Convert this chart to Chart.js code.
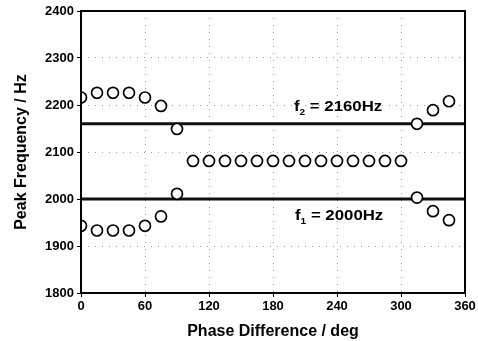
<!DOCTYPE html>
<html>
<head>
<meta charset="utf-8">
<script src="https://cdn.jsdelivr.net/npm/chart.js@4.4.0/dist/chart.umd.min.js"></script>
<style>
  html, body { margin: 0; padding: 0; background: #fff; }
  #wrap { width: 478px; height: 341px; }
</style>
</head>
<body>
<div id="wrap"><canvas id="myChart"></canvas></div>
<script>
// phase difference (deg) and measured peak frequencies (Hz)
const phaseUpper = [0, 15, 30, 45, 60, 75, 90, 315, 330, 345];
const freqUpper = [2216, 2226, 2226, 2226, 2216, 2198, 2149, 2160, 2189, 2208];
const phaseMid = [105, 120, 135, 150, 165, 180, 195, 210, 225, 240, 255, 270, 285, 300];
const freqMid = [2081, 2081, 2081, 2081, 2081, 2081, 2081, 2081, 2081, 2081, 2081, 2081, 2081, 2081];
const phaseLower = [0, 15, 30, 45, 60, 75, 90, 315, 330, 345];
const freqLower = [1943, 1933, 1933, 1933, 1943, 1963, 2011, 2003, 1974, 1955];

// reference frequencies of the two sources
const refFreqs = [2160, 2000];
const refLabels = [['f', '2', ' = 2160Hz'], ['f', '1', ' = 2000Hz']];

const xTicks = [0, 60, 120, 180, 240, 300, 360];
const yTicks = [1800, 1900, 2000, 2100, 2200, 2300, 2400];

function toPoints(xs, ys){
    var pts = [];
    for (let i = 0; i < xs.length; i++) {
        pts.push({x: xs[i], y: ys[i]});
    }
    return pts;
}

const markerStyle = {
    showLine: false,
    pointStyle: 'circle',
    pointRadius: 5.5,
    pointBorderWidth: 1.7,
    pointBorderColor: '#000',
    pointBackgroundColor: '#fff'
};

const datasets = [];
// thick reference lines first so the circles sit on top
refFreqs.forEach(function(f){
    datasets.push({
        data: [{x: 0, y: f}, {x: 360, y: f}],
        showLine: true,
        borderColor: '#111',
        borderWidth: 3,
        pointRadius: 0,
        order: 2
    });
});
datasets.push(Object.assign({data: toPoints(phaseUpper, freqUpper), order: 1}, markerStyle));
datasets.push(Object.assign({data: toPoints(phaseMid, freqMid), order: 1}, markerStyle));
datasets.push(Object.assign({data: toPoints(phaseLower, freqLower), order: 1}, markerStyle));

const FAM = '"Liberation Sans", Arial, sans-serif';

// frame around the plot area and the f1 / f2 labels
const framePlugin = {
    id: 'frame',
    afterDatasetsDraw(chart){
        const ctx = chart.ctx;
        const a = chart.chartArea;
        const xs = chart.scales.x, ys = chart.scales.y;
        ctx.save();
        ctx.strokeStyle = '#000';
        ctx.lineWidth = 2;
        ctx.strokeRect(a.left, a.top, a.right - a.left, a.bottom - a.top);

        const spots = [[241, 2187], [242, 1955]];
        const big = 'bold 15px ' + FAM, small = 'bold 9px ' + FAM;
        refLabels.forEach(function(lab, i){
            const cx = xs.getPixelForValue(spots[i][0]);
            const y = ys.getPixelForValue(spots[i][1]);
            ctx.fillStyle = '#000';
            ctx.textBaseline = 'alphabetic';
            ctx.textAlign = 'left';
            ctx.font = big;
            let w = ctx.measureText(lab[0]).width + ctx.measureText(lab[2]).width;
            ctx.font = small;
            w += ctx.measureText(lab[1]).width;
            // slightly wide lettering
            ctx.translate(cx, y);
            ctx.scale(1.12, 1);
            let x = -w / 2;
            ctx.font = big;
            ctx.fillText(lab[0], x, 0);
            x += ctx.measureText(lab[0]).width;
            ctx.font = small;
            ctx.fillText(lab[1], x, 4);
            x += ctx.measureText(lab[1]).width;
            ctx.font = big;
            ctx.fillText(lab[2], x, 0);
            ctx.setTransform(1, 0, 0, 1, 0, 0);
        });
        ctx.restore();
    }
};

const tickFont = {family: FAM, size: 13, weight: 'bold'};
const titleFont = {family: FAM, size: 16, weight: 'bold'};

new Chart(document.getElementById('myChart'), {
    type: 'scatter',
    data: { datasets: datasets },
    plugins: [framePlugin],
    options: {
        responsive: true,
        maintainAspectRatio: false,
        animation: false,
        layout: { padding: { top: 11, right: 13, left: 12, bottom: 0 } },
        plugins: { legend: { display: false }, tooltip: { enabled: false } },
        scales: {
            x: {
                type: 'linear',
                min: 0, max: 360,
                afterBuildTicks: function(s){ s.ticks = xTicks.map(v => ({value: v})); },
                afterFit: function(s){ s.height = 48; },
                grid: { color: '#999', lineWidth: 1, drawTicks: true, tickLength: 4, tickColor: '#000' },
                border: { display: false, dash: [1, 6] },
                ticks: { color: '#000', font: tickFont, padding: 2, maxRotation: 0, callback: v => String(v) },
                title: { display: true, text: 'Phase Difference / deg', color: '#000', font: titleFont, padding: {top: 3, bottom: 0} }
            },
            y: {
                type: 'linear',
                min: 1800, max: 2400,
                afterBuildTicks: function(s){ s.ticks = yTicks.map(v => ({value: v})); },
                afterFit: function(s){ s.width = 69; },
                grid: { color: '#999', lineWidth: 1, drawTicks: true, tickLength: 4, tickColor: '#000' },
                border: { display: false, dash: [1, 6] },
                ticks: { color: '#000', font: tickFont, padding: 3, callback: v => String(v) },
                title: { display: true, text: 'Peak Frequency / Hz', color: '#000', font: titleFont, padding: {top: 0, bottom: 4} }
            }
        }
    }
});
</script>
</body>
</html>
